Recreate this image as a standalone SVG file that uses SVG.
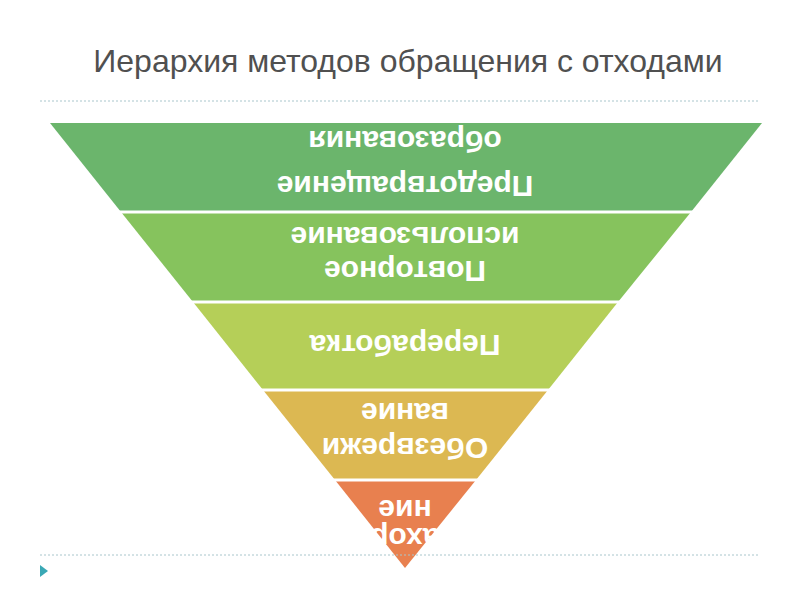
<svg xmlns="http://www.w3.org/2000/svg" width="800" height="600" viewBox="0 0 800 600">
<style>
.t{font-family:"Liberation Sans",Arial,sans-serif;font-weight:bold;font-size:30px;fill:#fff;text-anchor:middle;dominant-baseline:central}
.d{stroke:#a9c6cc;stroke-width:1;stroke-dasharray:2 2;fill:none}
.l{stroke:#fff;stroke-width:3}
</style>
<rect width="800" height="600" fill="#fff"/>
<text x="408" y="72" font-family="Liberation Sans,Arial,sans-serif" font-size="32" fill="#505050" text-anchor="middle">Иерархия методов обращения с отходами</text>
<line class="d" x1="40" y1="101" x2="760" y2="101"/>
<g id="n1"><polygon points="50,123 762,123 691,212 121,212" fill="#6bb56c"/>
<text class="t" transform="rotate(180 405 186)" x="405" y="186">Предотвращение</text>
<text class="t" transform="rotate(180 405 141)" x="405" y="141">образования</text></g>
<g id="n2"><polygon points="121,212 691,212 618,302 193,302" fill="#86c35d"/>
<text class="t" transform="rotate(180 405 271)" x="405" y="271">Повторное</text>
<text class="t" transform="rotate(180 405 237)" x="405" y="237">использование</text></g>
<g id="n3"><polygon points="193,302 618,302 548,390 263,390" fill="#b5cf58"/>
<text class="t" transform="rotate(180 405 345)" x="405" y="345">Переработка</text></g>
<g id="n4"><polygon points="263,390 548,390 476,480 335,480" fill="#dcb852"/>
<text class="t" transform="rotate(180 405 448)" x="405" y="448">Обезврежи</text>
<text class="t" transform="rotate(180 405 413)" x="405" y="413">вание</text></g>
<g id="n5"><polygon points="335,480 476,480 405,568" fill="#e8804f"/>
<text class="t" transform="rotate(180 405 538)" x="405" y="538">Захоро</text>
<text class="t" transform="rotate(180 405 510)" x="405" y="510">ние</text></g>
<g id="connectors">
<line class="l" x1="100" y1="212" x2="710" y2="212"/>
<line class="l" x1="180" y1="302" x2="630" y2="302"/>
<line class="l" x1="250" y1="390" x2="560" y2="390"/>
<line class="l" x1="320" y1="480" x2="490" y2="480"/>
</g>
<line class="d" x1="40" y1="555" x2="760" y2="555"/>
<polygon points="40,565 48,571 40,577" fill="#3aa8b5"/>
</svg>
